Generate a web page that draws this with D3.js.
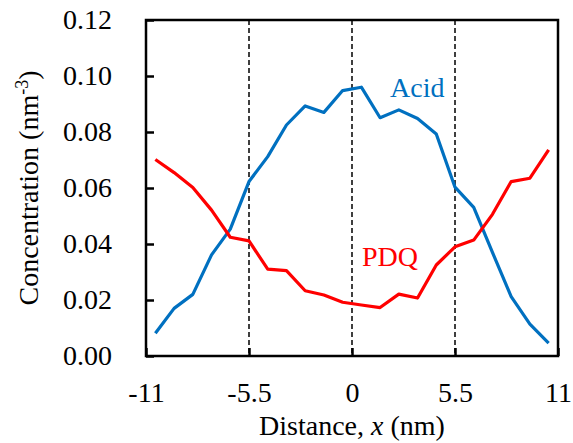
<!DOCTYPE html>
<html>
<head>
<meta charset="utf-8">
<script src="https://cdn.jsdelivr.net/npm/d3@7"></script>
<style>
  body { margin: 0; background: #fff }
  svg, svg text { font-family: "Liberation Serif", "Times New Roman", serif }
</style>
</head>
<body>
<svg id="chart" width="573" height="443"></svg>
<script>
// Data
var distance = [-10.5, -9.5, -8.5, -7.5, -6.5, -5.5, -4.5, -3.5, -2.5, -1.5, -0.5,
                0.5, 1.5, 2.5, 3.5, 4.5, 5.5, 6.5, 7.5, 8.5, 9.5, 10.5]
var acid     = [0.0081, 0.0170, 0.0220, 0.0361, 0.0453, 0.0623, 0.0712, 0.0825, 0.0893, 0.0870, 0.0948,
                0.0960, 0.0851, 0.0879, 0.0848, 0.0793, 0.0603, 0.0531, 0.0370, 0.0212, 0.0114, 0.0046]
var pdq      = [0.0702, 0.0655, 0.0602, 0.0521, 0.0424, 0.0411, 0.0310, 0.0305, 0.0233, 0.0218, 0.0192,
                0.0182, 0.0173, 0.0221, 0.0207, 0.0325, 0.0390, 0.0414, 0.0506, 0.0623, 0.0635, 0.0736]
var xTicks   = [-11, -5.5, 0, 5.5, 11]
var yTicks   = [0, 0.02, 0.04, 0.06, 0.08, 0.10, 0.12]
var dividers = [-5.5, 0, 5.5]

var series = [
  { name : "Acid", values : acid, colour : "#0070C0", lx : 390, ly : 97 },
  { name : "PDQ",  values : pdq,  colour : "#FF0000", lx : 362, ly : 266 }
]

// Plot box (window.top is read-only, so use own names)
var pLeft = 146, pRight = 558, pTop = 20, pBottom = 356,
    fontSize = "28px",
    serif    = "'Liberation Serif', 'Times New Roman', serif"

var svg = d3.select("#chart")

var xScale = d3.scaleLinear().domain([-11, 11]).range([pLeft, pRight]),
    yScale = d3.scaleLinear().domain([0, 0.12]).range([pBottom, pTop])

// Dashed dividers
svg.append("g")
   .selectAll("line")
   .data(dividers)
   .enter()
     .append("line")
       .attr("x1", function (d) { return xScale(d) })
       .attr("x2", function (d) { return xScale(d) })
       .attr("y1", pTop)
       .attr("y2", pBottom)
       .attr("stroke", "#000")
       .attr("stroke-width", 1.5)
       .attr("stroke-dasharray", "5,3")

// Frame
svg.append("rect")
   .attr("x", pLeft)
   .attr("y", pTop)
   .attr("width", pRight - pLeft)
   .attr("height", pBottom - pTop)
   .attr("fill", "none")
   .attr("stroke", "#000")
   .attr("stroke-width", 2.5)

// Axes (ticks point inwards)
var xAxis = d3.axisBottom(xScale)
              .tickValues(xTicks)
              .tickSizeInner(-8)
              .tickSizeOuter(0)
              .tickPadding(26)
              .tickFormat(function (d) { return String(d) })
var yAxis = d3.axisLeft(yScale)
              .tickValues(yTicks)
              .tickSizeInner(-8)
              .tickSizeOuter(0)
              .tickPadding(34)
              .tickFormat(d3.format(".2f"))

svg.append("g")
   .attr("class", "axis")
   .attr("transform", "translate(0," + pBottom + ")")
   .call(xAxis)
svg.append("g")
   .attr("class", "axis")
   .attr("transform", "translate(" + pLeft + ",0)")
   .call(yAxis)
svg.selectAll(".domain").remove()
svg.selectAll(".tick line").attr("stroke", "#000").attr("stroke-width", 2.5)
svg.selectAll(".tick text")
   .attr("fill", "#000")
   .style("font-family", serif)
   .style("font-size", fontSize)

// Lines
var line = d3.line()
             .x(function (d, i) { return xScale(distance[i]) })
             .y(function (d) { return yScale(d) })

series.forEach(function (s) {
  svg.append("path")
     .datum(s.values)
     .attr("d", line)
     .attr("fill", "none")
     .attr("stroke", s.colour)
     .attr("stroke-width", 3.2)
     .attr("stroke-linejoin", "round")

  svg.append("text")
     .attr("x", s.lx)
     .attr("y", s.ly)
     .attr("fill", s.colour)
     .style("font-size", fontSize)
     .text(s.name)
})

// Axis titles
var xt = svg.append("text")
            .attr("x", (pLeft + pRight) / 2)
            .attr("y", 435)
            .attr("text-anchor", "middle")
            .style("font-size", fontSize)
xt.append("tspan").text("Distance, ")
xt.append("tspan").style("font-style", "italic").text("x")
xt.append("tspan").text(" (nm)")

var yt = svg.append("text")
            .attr("transform", "translate(38," + (pTop + pBottom) / 2 + ") rotate(-90)")
            .attr("text-anchor", "middle")
            .style("font-size", fontSize)
yt.append("tspan").text("Concentration (nm")
yt.append("tspan").attr("dy", -10).style("font-size", "18px").text("-3")
yt.append("tspan").attr("dy", 10).text(")")
</script>
</body>
</html>
